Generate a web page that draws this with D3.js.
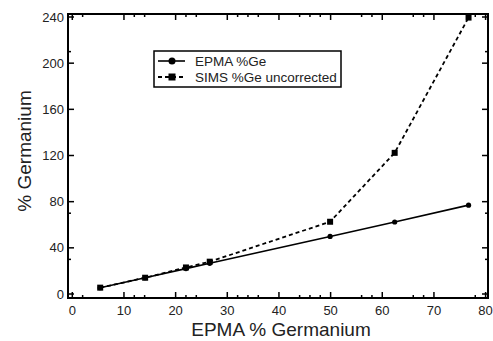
<!DOCTYPE html>
<html><head><meta charset="utf-8">
<script src="https://cdn.jsdelivr.net/npm/d3@7"></script>
<style>
html,body{margin:0;padding:0;background:#fff;}
svg{display:block;font-family:"Liberation Sans",Arial,sans-serif;}
</style></head>
<body>
<svg id="c" width="493" height="341"></svg>
<script>
const xValues = [5.4, 14.1, 22.0, 26.6, 49.9, 62.4, 76.7];
const epmaGe = [5.4, 14.1, 22.0, 26.6, 49.9, 62.4, 77.0];
const simsGe = [5.5, 14.1, 23.0, 28.0, 62.6, 122.3, 239.5];
const seriesNames = ["EPMA %Ge", "SIMS %Ge uncorrected"];
const xTicks = [0, 10, 20, 30, 40, 50, 60, 70, 80];
const xMinorTicks = [2, 12, 14, 22, 24, 32, 34, 36, 44, 46, 48, 56, 58, 66, 68, 78];
const yTicks = [0, 40, 80, 120, 160, 200, 240];
const yMinorTicks = [30, 70, 210];
const xTitle = "EPMA % Germanium";
const yTitle = "% Germanium";

const svg = d3.select("#c");
const frame = {l: 68, r: 488, t: 14, b: 298};
const x = d3.scaleLinear().domain([0, 80]).range([72.3, 485.6]);
const y = d3.scaleLinear().domain([0, 240]).range([294, 17]);

// ticks (all inward)
const tg = svg.append("g").attr("stroke", "#000").attr("stroke-width", 1.5);
xTicks.forEach(v => {
  tg.append("line").attr("x1", x(v)).attr("x2", x(v)).attr("y1", frame.b).attr("y2", frame.b - 6);
  tg.append("line").attr("x1", x(v)).attr("x2", x(v)).attr("y1", frame.t).attr("y2", frame.t + 6);
});
xMinorTicks.forEach(v => {
  tg.append("line").attr("x1", x(v)).attr("x2", x(v)).attr("y1", frame.b).attr("y2", frame.b - 3);
  tg.append("line").attr("x1", x(v)).attr("x2", x(v)).attr("y1", frame.t).attr("y2", frame.t + 3);
});
yTicks.forEach(v => {
  tg.append("line").attr("y1", y(v)).attr("y2", y(v)).attr("x1", frame.l).attr("x2", frame.l + 6);
  tg.append("line").attr("y1", y(v)).attr("y2", y(v)).attr("x1", frame.r).attr("x2", frame.r - 6);
});
yMinorTicks.forEach(v => {
  tg.append("line").attr("y1", y(v)).attr("y2", y(v)).attr("x1", frame.l).attr("x2", frame.l + 3);
  tg.append("line").attr("y1", y(v)).attr("y2", y(v)).attr("x1", frame.r).attr("x2", frame.r - 3);
});

// frame
svg.append("rect").attr("x", frame.l).attr("y", frame.t)
  .attr("width", frame.r - frame.l).attr("height", frame.b - frame.t)
  .attr("fill", "none").attr("stroke", "#000").attr("stroke-width", 2);

// tick labels
svg.append("g").selectAll("text").data(xTicks).join("text")
  .attr("x", d => x(d)).attr("y", 315).attr("text-anchor", "middle")
  .attr("font-size", 13).attr("fill", "#222").text(d => d);
svg.append("g").selectAll("text").data(yTicks).join("text")
  .attr("x", 64).attr("y", d => y(d) + 4.5).attr("text-anchor", "end")
  .attr("font-size", 13).attr("fill", "#222").text(d => d);

// titles
svg.append("text").attr("x", 281).attr("y", 336).attr("text-anchor", "middle")
  .attr("font-size", 19).attr("fill", "#222").text(xTitle);
svg.append("text").attr("transform", "translate(31,151) rotate(-90)")
  .attr("text-anchor", "middle").attr("font-size", 19).attr("fill", "#222").text(yTitle);

// data
const epma = xValues.map((v, i) => [v, epmaGe[i]]);
const sims = xValues.map((v, i) => [v, simsGe[i]]);
const line = d3.line().x(d => x(d[0])).y(d => y(d[1]));

svg.append("path").attr("d", line(epma)).attr("fill", "none")
  .attr("stroke", "#000").attr("stroke-width", 1.6);
svg.append("path").attr("d", line(sims)).attr("fill", "none")
  .attr("stroke", "#000").attr("stroke-width", 1.8).attr("stroke-dasharray", "4,3");

svg.append("g").selectAll("circle").data(epma).join("circle")
  .attr("cx", d => x(d[0])).attr("cy", d => y(d[1])).attr("r", 2.6).attr("fill", "#000");
svg.append("g").selectAll("rect").data(sims).join("rect")
  .attr("x", d => x(d[0]) - 3).attr("y", d => y(d[1]) - 3)
  .attr("width", 6).attr("height", 6).attr("fill", "#000");

// legend
const lg = svg.append("g");
lg.append("rect").attr("x", 154).attr("y", 51).attr("width", 187).attr("height", 36)
  .attr("fill", "#fff").attr("stroke", "#000").attr("stroke-width", 1.5);
lg.append("line").attr("x1", 158).attr("x2", 185).attr("y1", 61).attr("y2", 61)
  .attr("stroke", "#000").attr("stroke-width", 1.6);
lg.append("circle").attr("cx", 172).attr("cy", 61).attr("r", 3.5).attr("fill", "#000");
lg.append("line").attr("x1", 158).attr("x2", 186).attr("y1", 77).attr("y2", 77)
  .attr("stroke", "#000").attr("stroke-width", 1.8).attr("stroke-dasharray", "4,3");
lg.append("rect").attr("x", 168.5).attr("y", 73.5).attr("width", 7).attr("height", 7).attr("fill", "#000");
lg.append("text").attr("x", 195).attr("y", 65.5).attr("font-size", 13.5).attr("fill", "#222").text(seriesNames[0]);
lg.append("text").attr("x", 195).attr("y", 81.5).attr("font-size", 13.5).attr("fill", "#222").text(seriesNames[1]);
</script>
</body></html>
